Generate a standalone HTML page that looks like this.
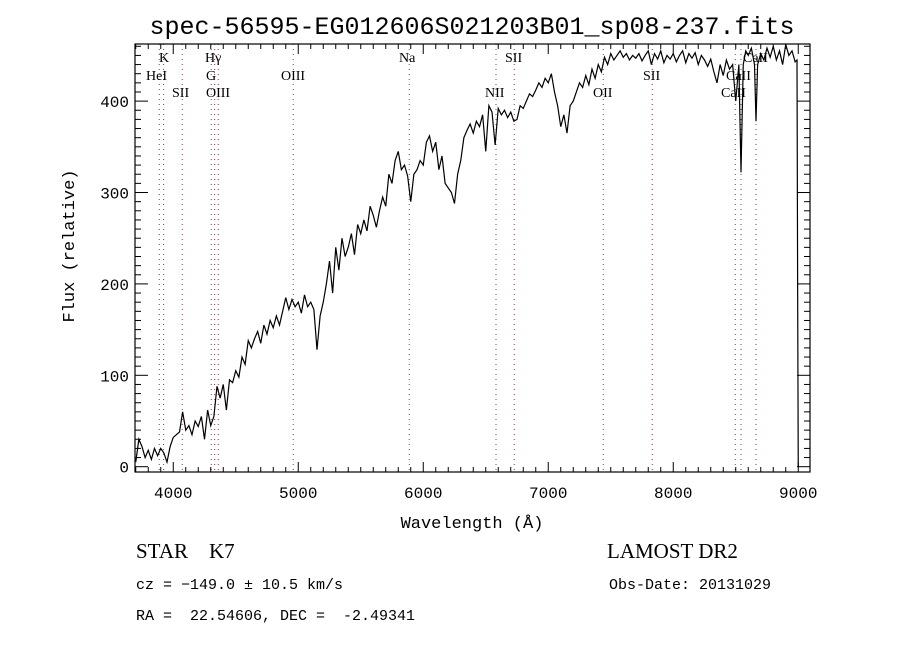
<!DOCTYPE html>
<html><head><meta charset="utf-8">
<style>
html,body{margin:0;padding:0;background:#fff;}
svg{display:block;}
text{fill:#000;}
</style></head>
<body>
<svg id="chart" width="900" height="650" viewBox="0 0 900 650" xmlns="http://www.w3.org/2000/svg">
<rect x="0" y="0" width="900" height="650" fill="#fff"/>
<text x="472" y="34" text-anchor="middle" font-family="Liberation Mono, monospace" font-size="25">spec-56595-EG012606S021203B01_sp08-237.fits</text>
<g id="lines"></g>
<g id="axes"></g>
<path id="spec" fill="none" stroke="#000" stroke-width="1.2"/>
<rect x="135" y="44" width="675" height="428" fill="none" stroke="#000" stroke-width="1.2"/>
<text x="472" y="528" text-anchor="middle" font-family="Liberation Mono, monospace" font-size="17">Wavelength (Å)</text>
<text transform="translate(74,246) rotate(-90)" text-anchor="middle" font-family="Liberation Mono, monospace" font-size="17">Flux (relative)</text>
<text x="136" y="558" font-family="Liberation Serif, serif" font-size="21" xml:space="preserve">STAR    K7</text>
<text x="136" y="589" font-family="Liberation Mono, monospace" font-size="15">cz = −149.0 ± 10.5 km/s</text>
<text x="136" y="620" font-family="Liberation Mono, monospace" font-size="15" xml:space="preserve">RA =  22.54606, DEC =  -2.49341</text>
<text x="607" y="558" font-family="Liberation Serif, serif" font-size="21">LAMOST DR2</text>
<text x="609" y="589" font-family="Liberation Mono, monospace" font-size="15">Obs-Date: 20131029</text>
</svg>
<script>
const wavelengths=[3700,3725,3750,3775,3800,3825,3850,3875,3900,3925,3950,3975,4000,4025,4050,4075,4100,4125,4150,4175,4200,4225,4250,4275,4300,4325,4350,4375,4400,4425,4450,4475,4500,4525,4550,4575,4600,4625,4650,4675,4700,4725,4750,4775,4800,4825,4850,4875,4900,4925,4950,4975,5000,5025,5050,5075,5100,5125,5150,5175,5200,5225,5250,5275,5300,5325,5350,5375,5400,5425,5450,5475,5500,5525,5550,5575,5600,5625,5650,5675,5700,5725,5750,5775,5800,5825,5850,5875,5900,5925,5950,5975,6000,6025,6050,6075,6100,6125,6150,6175,6200,6225,6250,6275,6300,6325,6350,6375,6400,6425,6450,6475,6500,6525,6550,6575,6600,6625,6650,6675,6700,6725,6750,6775,6800,6825,6850,6875,6900,6925,6950,6975,7000,7025,7050,7075,7100,7125,7150,7175,7200,7225,7250,7275,7300,7325,7350,7375,7400,7425,7450,7475,7500,7525,7550,7575,7600,7625,7650,7675,7700,7725,7750,7775,7800,7825,7850,7875,7900,7925,7950,7975,8000,8025,8050,8075,8100,8125,8150,8175,8200,8225,8250,8275,8300,8325,8350,8375,8400,8425,8450,8475,8500,8525,8542,8560,8580,8600,8625,8650,8662,8675,8700,8725,8750,8775,8800,8825,8850,8875,8900,8925,8950,8975,8990,8995,9000];
const flux=[5,30,22,10,18,8,20,12,20,15,5,22,32,35,38,60,40,45,35,50,44,55,30,62,45,55,88,75,90,62,95,92,105,98,120,112,138,130,140,148,135,155,145,160,152,165,155,170,185,172,183,175,180,168,188,175,180,172,128,165,180,200,225,190,240,215,250,230,240,255,232,265,255,270,258,285,275,262,280,295,285,320,310,335,345,325,330,318,290,320,325,335,330,355,362,345,355,325,340,310,305,300,288,320,335,360,368,375,365,378,372,385,345,395,388,352,392,385,390,382,388,378,380,395,392,400,408,405,412,420,415,425,420,430,410,395,372,385,365,395,400,410,420,415,428,418,435,425,440,432,448,440,452,445,450,455,448,452,445,450,447,452,444,450,455,440,452,446,455,442,450,446,452,443,450,455,442,452,447,453,440,450,445,438,446,432,420,440,428,445,435,440,400,440,322,440,455,450,458,440,378,440,452,445,458,448,460,445,455,440,462,450,455,443,445,200,0];
const lineWaves=[3888,3923,4072,4304,4331,4360,4960,5888,6582,6728,7440,7832,8496,8542,8662];
const lineLabels=[
 {t:"K",x:159,y:62},{t:"HeI",x:146,y:80},{t:"SII",x:172,y:97},
 {t:"Hγ",x:205,y:62},{t:"G",x:206,y:80},{t:"OIII",x:206,y:97},
 {t:"OIII",x:281,y:80},{t:"Na",x:399,y:62},{t:"SII",x:505,y:62},
 {t:"NII",x:485,y:97},{t:"OII",x:593,y:97},{t:"SII",x:643,y:80},
 {t:"CaII",x:721,y:97},{t:"CaII",x:726,y:80},{t:"CaII",x:743,y:62}];
const xTicks=[4000,5000,6000,7000,8000,9000];
const yTicks=[0,100,200,300,400];

const X0=135,X1=810,Y0=472,Y1=44,WMIN=3694,WMAX=9094,FMIN=-5.8,FMAX=462.5;
function xs(w){return X0+(w-WMIN)/(WMAX-WMIN)*(X1-X0);}
function ys(f){return Y0-(f-FMIN)/(FMAX-FMIN)*(Y0-Y1);}
const NS="http://www.w3.org/2000/svg";
function mk(tag,attrs,parent){const e=document.createElementNS(NS,tag);for(const k in attrs)e.setAttribute(k,attrs[k]);parent.appendChild(e);return e;}

let d="";
for(let i=0;i<wavelengths.length;i++){d+=(i?"L":"M")+xs(wavelengths[i]).toFixed(2)+","+ys(flux[i]).toFixed(2);}
document.getElementById("spec").setAttribute("d",d);

const lg=document.getElementById("lines");
lineWaves.forEach(w=>{
 const l=mk("line",{x1:xs(w),x2:xs(w),y1:Y1,y2:Y0,stroke:"#8b3a3a","stroke-width":1,"stroke-dasharray":"1,4"},lg);
 
 
});
lineLabels.forEach(o=>{
 const t=mk("text",{x:o.x,y:o.y,"font-family":"Liberation Serif, serif","font-size":14},lg);
 t.textContent=o.t;
 
 
});

const ax=document.getElementById("axes");
for(let w=3700;w<=9000;w+=100){
 const maj=w%1000===0, L=maj?10:5, x=xs(w);
 const a=mk("line",{x1:x,x2:x,y1:Y0,y2:Y0-L,stroke:"#000"},ax);
 
 
 const b=mk("line",{x1:x,x2:x,y1:Y1,y2:Y1+L,stroke:"#000"},ax);
 
 
}
for(let f=0;f<=460;f+=10){
 const maj=f%100===0, L=maj?13:6, y=ys(f);
 const a=mk("line",{x1:X0,x2:X0+L,y1:y,y2:y,stroke:"#000"},ax);
 
 
 const b=mk("line",{x1:X1,x2:X1-L,y1:y,y2:y,stroke:"#000"},ax);
 
 
}
xTicks.forEach(w=>{
 const t=mk("text",{x:xs(w),y:498,"text-anchor":"middle","font-family":"Liberation Mono, monospace","font-size":16},ax);
 t.textContent=String(w);
 
 
});
yTicks.forEach(f=>{
 const t=mk("text",{x:129,y:ys(f)+6,"text-anchor":"end","font-family":"Liberation Mono, monospace","font-size":16},ax);
 t.textContent=String(f);
 
 
});
</script>
</body></html>
